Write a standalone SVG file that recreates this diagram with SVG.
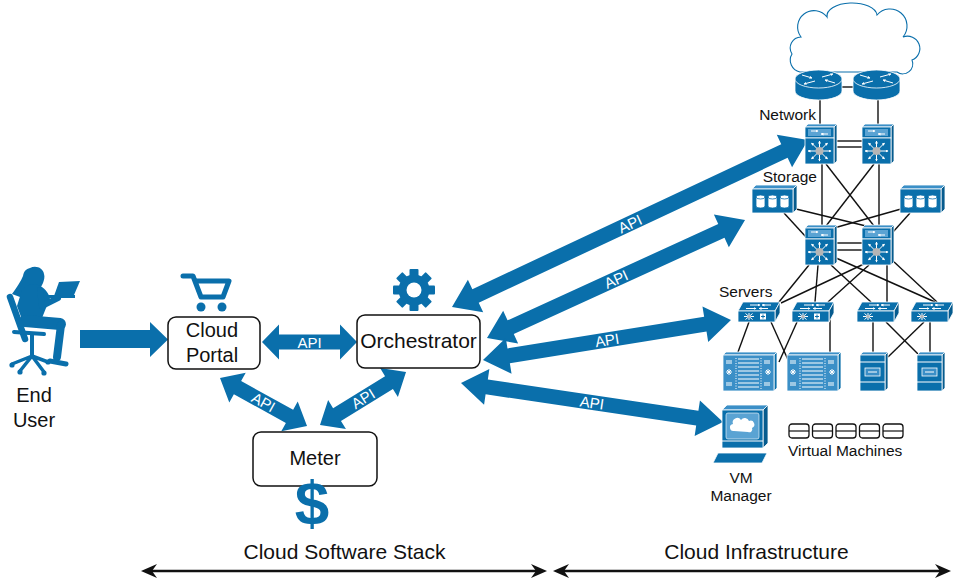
<svg xmlns="http://www.w3.org/2000/svg" width="953" height="580" viewBox="0 0 953 580">
<defs>
<style>
  .t { font-family: "Liberation Sans", Arial, Helvetica, sans-serif; fill: #111; }
  .big { font-size: 20px; text-anchor: middle; }
  .sm { font-size: 15.5px; }
  .api { font-family: "Liberation Sans", Arial, Helvetica, sans-serif; font-size: 15px; fill: #fff; text-anchor: middle; }
  .box { fill: #fff; stroke: #111; stroke-width: 1.5; }
  .blue { fill: #0a6fab; }
  .ic { fill: #0a6fab; stroke: #fff; stroke-width: 0.8; }
  .icl { fill: #3b8fc7; stroke: #fff; stroke-width: 0.8; }
  .icd { fill: #065b8e; stroke: #fff; stroke-width: 0.8; }
  .wl { stroke: #fff; stroke-width: 1; fill: none; }
  .net { stroke: #111; stroke-width: 1.4; fill: none; }
  .vm { fill: #fff; stroke: #111; stroke-width: 1.3; }
</style>
<marker id="wh" viewBox="0 0 6 6" refX="5" refY="3" markerWidth="3" markerHeight="3" orient="auto">
  <path d="M0,0 L6,3 L0,6 Z" fill="#fff"/>
</marker>

<!-- router: cylinder with four arrows on top -->
<g id="router">
  <path d="M0,9 V21 A23.5,9 0 0 0 47,21 V9 Z" class="ic"/>
  <ellipse cx="23.5" cy="9" rx="23.5" ry="9" class="ic"/>
  <line x1="7" y1="5" x2="17" y2="8" class="wl" stroke-width="1.6" marker-end="url(#wh)"/>
  <line x1="40" y1="13" x2="30" y2="10" class="wl" stroke-width="1.6" marker-end="url(#wh)"/>
  <line x1="27" y1="7" x2="38" y2="4" class="wl" stroke-width="1.6" marker-end="url(#wh)"/>
  <line x1="20" y1="11" x2="9" y2="14" class="wl" stroke-width="1.6" marker-end="url(#wh)"/>
</g>

<!-- core / aggregation switch -->
<g id="nexus">
  <path d="M0,3 L3,0 H32 L29,3 Z" class="icl"/>
  <path d="M29,3 L32,0 V37 L29,40 Z" class="icd"/>
  <rect x="0" y="3" width="29" height="11" class="ic"/>
  <rect x="3" y="5" width="23" height="7" fill="#5aa3d3"/>
  <line x1="6" y1="7" x2="13" y2="7" class="wl" marker-end="url(#wh)"/>
  <line x1="23" y1="10" x2="16" y2="10" class="wl" marker-end="url(#wh)"/>
  <rect x="0" y="14" width="29" height="26" class="ic"/>
  <g class="wl">
    <line x1="14.5" y1="27" x2="14.5" y2="17" marker-end="url(#wh)"/>
    <line x1="14.5" y1="27" x2="14.5" y2="37" marker-end="url(#wh)"/>
    <line x1="14.5" y1="27" x2="3" y2="27" marker-end="url(#wh)"/>
    <line x1="14.5" y1="27" x2="26" y2="27" marker-end="url(#wh)"/>
    <line x1="14.5" y1="27" x2="6.5" y2="19" marker-end="url(#wh)"/>
    <line x1="14.5" y1="27" x2="22.5" y2="19" marker-end="url(#wh)"/>
    <line x1="14.5" y1="27" x2="6.5" y2="35" marker-end="url(#wh)"/>
    <line x1="14.5" y1="27" x2="22.5" y2="35" marker-end="url(#wh)"/>
  </g>
  <circle cx="14.5" cy="27" r="4" fill="#b5b5b5"/>
</g>

<!-- access switch -->
<g id="acc">
  <path d="M0,9 L5,0 H42 L37,9 Z" class="ic"/>
  <path d="M37,9 L42,0 V11 L37,20 Z" class="icd"/>
  <rect x="0" y="9" width="37" height="11" class="ic"/>
  <line x1="12" y1="3" x2="22" y2="3" class="wl" stroke-width="0.7" marker-end="url(#wh)"/>
  <line x1="33" y1="3" x2="24" y2="3" class="wl" stroke-width="0.7" marker-end="url(#wh)"/>
  <line x1="8" y1="6.5" x2="18" y2="6.5" class="wl" stroke-width="0.7" marker-end="url(#wh)"/>
  <line x1="30" y1="6.5" x2="21" y2="6.5" class="wl" stroke-width="0.7" marker-end="url(#wh)"/>
  <g class="wl" stroke-width="0.9">
    <line x1="6" y1="14.5" x2="16" y2="14.5"/>
    <line x1="11" y1="11" x2="11" y2="18"/>
    <line x1="7.5" y1="11.5" x2="14.5" y2="17.5"/>
    <line x1="14.5" y1="11.5" x2="7.5" y2="17.5"/>
  </g>
  <circle cx="11" cy="14.5" r="1.6" fill="#b5b5b5"/>
</g>
<g id="accx">
  <use href="#acc"/>
  <rect x="22" y="11.5" width="6" height="6" fill="#fff"/>
  <path d="M25,12.5 V16.5 M23,14.5 H27" stroke="#0a6fab" stroke-width="1"/>
</g>

<!-- storage array -->
<g id="storage">
  <path d="M0,4 L4,0 H45 L41,4 Z" class="icl"/>
  <path d="M41,4 L45,0 V24 L41,28 Z" class="icd"/>
  <rect x="0" y="4" width="41" height="24" class="ic"/>
  <g fill="#fff" stroke="#0a6fab" stroke-width="0.8">
    <path d="M4,12 a4.5,2 0 0 1 9,0 v9 a4.5,2 0 0 1 -9,0 Z"/>
    <path d="M4,12 a4.5,2 0 0 0 9,0" fill="none"/>
    <path d="M16,12 a4.5,2 0 0 1 9,0 v9 a4.5,2 0 0 1 -9,0 Z"/>
    <path d="M16,12 a4.5,2 0 0 0 9,0" fill="none"/>
    <path d="M28,12 a4.5,2 0 0 1 9,0 v9 a4.5,2 0 0 1 -9,0 Z"/>
    <path d="M28,12 a4.5,2 0 0 0 9,0" fill="none"/>
  </g>
</g>

<!-- blade chassis -->
<g id="blade">
  <path d="M0,3 L3,0 H54 L51,3 Z" class="icl"/>
  <path d="M51,3 L54,0 V36 L51,39 Z" class="ic"/>
  <rect x="0" y="3" width="51" height="36" class="icl"/>
  <g class="wl" stroke-width="1.1">
    <line x1="15" y1="7" x2="36" y2="7"/>
    <line x1="15" y1="11" x2="36" y2="11"/>
    <line x1="15" y1="15" x2="36" y2="15"/>
    <line x1="15" y1="19" x2="36" y2="19"/>
    <line x1="15" y1="23" x2="36" y2="23"/>
    <line x1="15" y1="27" x2="36" y2="27"/>
    <line x1="15" y1="31" x2="36" y2="31"/>
    <line x1="15" y1="35" x2="36" y2="35"/>
  </g>
  <g class="wl" stroke-width="0.8" stroke-dasharray="1 1.5">
    <line x1="13" y1="6" x2="13" y2="37"/>
    <line x1="38" y1="6" x2="38" y2="37"/>
  </g>
  <g class="wl" stroke-width="0.8">
    <path d="M3,9 H9 M3,11 H9 M41,9 H47 M41,11 H47"/>
    <path d="M3,20 H9 M6,17 V23 M4,18 L8,22 M8,18 L4,22"/>
    <path d="M42,20 H48 M45,17 V23 M43,18 L47,22 M47,18 L43,22"/>
    <path d="M3,31 H9 M3,33 H9 M41,31 H47 M41,33 H47"/>
  </g>
</g>

<!-- rack server -->
<g id="tower">
  <path d="M0,3 L3,0 H28 L25,3 Z" class="icl"/>
  <path d="M25,3 L28,0 V36 L25,39 Z" class="icd"/>
  <rect x="0" y="3" width="25" height="36" class="ic"/>
  <line x1="0" y1="10" x2="25" y2="10" class="wl"/>
  <line x1="0" y1="30" x2="25" y2="30" class="wl"/>
  <rect x="5" y="16" width="15" height="8" fill="#3b8fc7" stroke="#fff" stroke-width="0.8"/>
  <line x1="8" y1="20" x2="17" y2="20" class="wl"/>
</g>

<!-- virtual machine -->
<g id="vmbox">
  <rect x="0" y="0" width="20" height="14" rx="3" class="vm"/>
  <line x1="0" y1="7" x2="20" y2="7" stroke="#111" stroke-width="1.2"/>
</g>
</defs>

<rect width="953" height="580" fill="#fff"/>

<!-- end user: seated figure with laptop -->
<g id="end-user">
  <g class="blue">
    <path d="M30,268 C36,265 43,268 44,274 C45,277 44,280 43,283 L41,287 C38,289 35,288 33,286 C30,289 25,292 20,297 L12,294 C17,287 21,281 23,276 C24,271 26,269 30,268 Z"/>
    <path d="M22,290 C26,285 32,283 38,285 C44,287 49,293 50,299 L46,308 L42,318 L24,325 L17,306 Z"/>
    <path d="M59,282 L80,281 L74,295 L54,296 Z"/>
    <rect x="48" y="295" width="27" height="3"/>
    <circle cx="12" cy="365" r="2.6"/>
    <circle cx="20" cy="372" r="2.6"/>
    <circle cx="44" cy="373" r="2.6"/>
    <circle cx="48" cy="362" r="2.6"/>
  </g>
  <g fill="none" stroke="#0a6fab" stroke-linecap="round" stroke-linejoin="round">
    <path d="M40,290 L42,306 L58,298" stroke-width="6"/>
    <path d="M25,321 L60,324" stroke-width="12"/>
    <path d="M61,325 L57,357" stroke-width="8"/>
    <path d="M50,361 L66,364" stroke-width="5"/>
    <path d="M10,297 L25,339" stroke-width="6.5"/>
    <path d="M14,332 L44,334" stroke-width="4"/>
    <path d="M32,334 V356" stroke-width="4"/>
    <path d="M12,364 L32,356 L20,371 M32,356 L44,372 M32,356 L48,362" stroke-width="3.5"/>
  </g>
  <text class="t big" x="34" y="402">End</text>
  <text class="t big" x="34" y="427">User</text>
</g>

<!-- connectors -->
<g id="connectors">
  <!-- user to portal -->
  <polygon class="blue" points="80,330 150,330 150,322 168,339.5 150,357 150,348 80,348"/>

  <!-- portal <-> orchestrator -->
  <g transform="translate(262,342)">
    <polygon class="blue" points="0,0 17,-17.5 17,-7.5 78,-7.5 78,-17.5 95,0 78,17.5 78,7.5 17,7.5 17,17.5"/>
    <text class="api" x="47.5" y="5.5">API</text>
  </g>

  <!-- portal <-> meter -->
  <g transform="translate(220,378) rotate(28.9)">
    <polygon class="blue" points="0,0 20,-17 20,-7.5 79.4,-7.5 79.4,-17 99.4,0 79.4,17 79.4,7.5 20,7.5 20,17"/>
    <text class="api" x="49.7" y="5.5">API</text>
  </g>

  <!-- meter <-> orchestrator -->
  <g transform="translate(320,425) rotate(-31.6)">
    <polygon class="blue" points="0,0 20,-17 20,-7.5 81,-7.5 81,-17 101,0 81,17 81,7.5 20,7.5 20,17"/>
    <text class="api" x="50.5" y="5.5">API</text>
  </g>

  <!-- orchestrator <-> network -->
  <g transform="translate(452,307) rotate(-25.13)">
    <polygon class="blue" points="0,0 26,-18 26,-7.5 367.2,-7.5 367.2,-18 393.2,0 367.2,18 367.2,7.5 26,7.5 26,18"/>
    <text class="api" x="196.6" y="5.5">API</text>
  </g>

  <!-- orchestrator <-> storage -->
  <g transform="translate(487,338) rotate(-24.57)">
    <polygon class="blue" points="0,0 26,-18 26,-7.5 257.7,-7.5 257.7,-18 283.7,0 257.7,18 257.7,7.5 26,7.5 26,18"/>
    <text class="api" x="141.85" y="5.5">API</text>
  </g>

  <!-- orchestrator <-> servers -->
  <g transform="translate(483,360) rotate(-9.16)">
    <polygon class="blue" points="0,0 26,-18 26,-7.5 225.2,-7.5 225.2,-18 251.2,0 225.2,18 225.2,7.5 26,7.5 26,18"/>
    <text class="api" x="125.6" y="5.5">API</text>
  </g>

  <!-- orchestrator <-> VM manager -->
  <g transform="translate(461,383) rotate(8.47)">
    <polygon class="blue" points="0,0 26,-18 26,-7.5 238.9,-7.5 238.9,-18 264.9,0 238.9,18 238.9,7.5 26,7.5 26,18"/>
    <text class="api" x="132.45" y="5.5">API</text>
  </g>

  <!-- infrastructure cabling -->
  <g class="net">
    <line x1="842" y1="87" x2="853" y2="87"/>
    <line x1="820" y1="100" x2="820" y2="124"/>
    <line x1="878" y1="100" x2="878" y2="124"/>
    <line x1="834" y1="141" x2="862" y2="141"/>
    <line x1="834" y1="147" x2="862" y2="147"/>
    <line x1="822" y1="164" x2="822" y2="225"/>
    <line x1="879" y1="164" x2="879" y2="225"/>
    <line x1="826" y1="164" x2="874" y2="226"/>
    <line x1="874" y1="164" x2="826" y2="226"/>
    <line x1="796" y1="209" x2="866" y2="226"/>
    <line x1="784" y1="213" x2="806" y2="237"/>
    <line x1="901" y1="209" x2="834" y2="228"/>
    <line x1="910" y1="213" x2="893" y2="232"/>
    <line x1="834" y1="243" x2="862" y2="243"/>
    <line x1="834" y1="250" x2="862" y2="250"/>
    <line x1="809" y1="265" x2="779" y2="302"/>
    <line x1="818" y1="265" x2="815" y2="302"/>
    <line x1="831" y1="265" x2="871" y2="302"/>
    <line x1="836" y1="258" x2="935" y2="302"/>
    <line x1="866" y1="263" x2="781" y2="303"/>
    <line x1="869" y1="265" x2="828" y2="302"/>
    <line x1="887" y1="265" x2="887" y2="302"/>
    <line x1="892" y1="260" x2="937" y2="302"/>
    <line x1="749" y1="322" x2="738" y2="352"/>
    <line x1="771" y1="322" x2="789" y2="362"/>
    <line x1="797" y1="322" x2="779" y2="362"/>
    <line x1="830" y1="318" x2="830" y2="352"/>
    <line x1="873" y1="322" x2="873" y2="355"/>
    <line x1="886" y1="322" x2="921" y2="357"/>
    <line x1="924" y1="322" x2="888" y2="357"/>
    <line x1="930" y1="322" x2="930" y2="355"/>
  </g>

  <!-- scope arrows -->
  <g>
    <line x1="150" y1="571" x2="538" y2="571" stroke="#111" stroke-width="2.5"/>
    <path d="M141,571 L157,564 L152,571 L157,578 Z" fill="#111"/>
    <path d="M547,571 L531,564 L536,571 L531,578 Z" fill="#111"/>
    <line x1="562" y1="571" x2="942" y2="571" stroke="#111" stroke-width="2.5"/>
    <path d="M553,571 L569,564 L564,571 L569,578 Z" fill="#111"/>
    <path d="M951,571 L935,564 L940,571 L935,578 Z" fill="#111"/>
  </g>
</g>

<!-- cloud portal -->
<g id="cloud-portal">
  <path d="M183,276 H193 L201,297 H223 L229,281 H197" fill="none" stroke="#0a6fab" stroke-width="5" stroke-linecap="round" stroke-linejoin="round"/>
  <circle cx="201" cy="307" r="4.5" class="blue"/>
  <circle cx="222" cy="307" r="4.5" class="blue"/>
  <rect x="168" y="317" width="92" height="52" rx="8" class="box"/>
  <text class="t big" x="212" y="337">Cloud</text>
  <text class="t big" x="212" y="362">Portal</text>
</g>

<!-- orchestrator -->
<g id="orchestrator">
  <g transform="translate(414,290)" class="blue">
    <circle r="15.5"/>
    <rect x="-4.5" y="-21" width="9" height="9" rx="1"/>
    <rect x="-4.5" y="-21" width="9" height="9" rx="1" transform="rotate(45)"/>
    <rect x="-4.5" y="-21" width="9" height="9" rx="1" transform="rotate(90)"/>
    <rect x="-4.5" y="-21" width="9" height="9" rx="1" transform="rotate(135)"/>
    <rect x="-4.5" y="-21" width="9" height="9" rx="1" transform="rotate(180)"/>
    <rect x="-4.5" y="-21" width="9" height="9" rx="1" transform="rotate(225)"/>
    <rect x="-4.5" y="-21" width="9" height="9" rx="1" transform="rotate(270)"/>
    <rect x="-4.5" y="-21" width="9" height="9" rx="1" transform="rotate(315)"/>
    <circle r="7.5" fill="#fff"/>
  </g>
  <rect x="357" y="315" width="123" height="53" rx="8" class="box"/>
  <text class="t" x="418.5" y="348" font-size="21" text-anchor="middle">Orchestrator</text>
</g>

<!-- meter -->
<g id="meter">
  <rect x="253" y="432" width="124" height="54" rx="8" class="box"/>
  <text class="t big" x="315" y="465">Meter</text>
  <text x="312" y="524" font-family="Liberation Sans, Arial, sans-serif" font-weight="bold" font-size="62" text-anchor="middle" fill="#0a6fab">$</text>
</g>

<!-- network -->
<g id="network">
  <path d="M800,72 A12,12 0 0 1 792,54 A11,11 0 0 1 801,37 A14,14 0 0 1 827,17 A25,13 0 0 1 877,15 A15,15 0 0 1 903,37 A12,12 0 0 1 912,60 A10,10 0 0 1 897,72 Z" fill="#fff" stroke="#0a6fab" stroke-width="1.1"/>
  <use href="#router" x="795" y="70"/>
  <use href="#router" x="853" y="70"/>
  <use href="#nexus" x="805" y="124"/>
  <use href="#nexus" x="862" y="124"/>
  <text class="t sm" x="816" y="120" text-anchor="end">Network</text>
</g>

<!-- storage -->
<g id="storage-tier">
  <text class="t sm" x="817" y="182" text-anchor="end">Storage</text>
  <use href="#storage" x="752" y="185"/>
  <use href="#storage" x="900" y="185"/>
  <use href="#nexus" x="805" y="225"/>
  <use href="#nexus" x="862" y="225"/>
</g>

<!-- servers -->
<g id="servers">
  <text class="t sm" x="719" y="297">Servers</text>
  <use href="#accx" x="738" y="302"/>
  <use href="#accx" x="792" y="302"/>
  <use href="#acc" x="857" y="302"/>
  <use href="#acc" x="911" y="302"/>
  <use href="#blade" x="723" y="352"/>
  <use href="#blade" x="787" y="352"/>
  <use href="#tower" x="860" y="352"/>
  <use href="#tower" x="917" y="352"/>
</g>

<!-- VM manager -->
<g id="vm-manager">
  <path d="M722,410 L727,405 H768 L763,410 Z" class="icl"/>
  <path d="M763,410 L768,405 V443 L763,448 Z" class="icd"/>
  <rect x="722" y="410" width="41" height="38" class="ic"/>
  <rect x="726" y="413" width="33" height="26" rx="2" fill="#5aa3d3" stroke="#fff" stroke-width="0.6"/>
  <path d="M734,431 A3.5,3.5 0 0 1 733,424 A4.5,4.5 0 0 1 741,420 A4.5,4.5 0 0 1 749,421 A3.5,3.5 0 0 1 752,428 A3,3 0 0 1 748,432 Z" fill="#fff"/>
  <line x1="722" y1="441" x2="763" y2="441" class="wl" stroke-width="0.7"/>
  <path d="M718,453 H767 L762,463 H713 Z" class="ic"/>
  <text class="t sm" x="741" y="483" text-anchor="middle">VM</text>
  <text class="t sm" x="741" y="501" text-anchor="middle">Manager</text>
</g>

<!-- virtual machines -->
<g id="virtual-machines">
  <use href="#vmbox" x="789" y="424"/>
  <use href="#vmbox" x="812.5" y="424"/>
  <use href="#vmbox" x="836" y="424"/>
  <use href="#vmbox" x="859.5" y="424"/>
  <use href="#vmbox" x="883" y="424"/>
  <text class="t sm" x="788" y="456">Virtual Machines</text>
</g>

<!-- scope labels -->
<g id="scope-labels">
  <text class="t" x="344.5" y="559" font-size="21" text-anchor="middle">Cloud Software Stack</text>
  <text class="t" x="756.5" y="559" font-size="21" text-anchor="middle">Cloud Infrastructure</text>
</g>
</svg>
